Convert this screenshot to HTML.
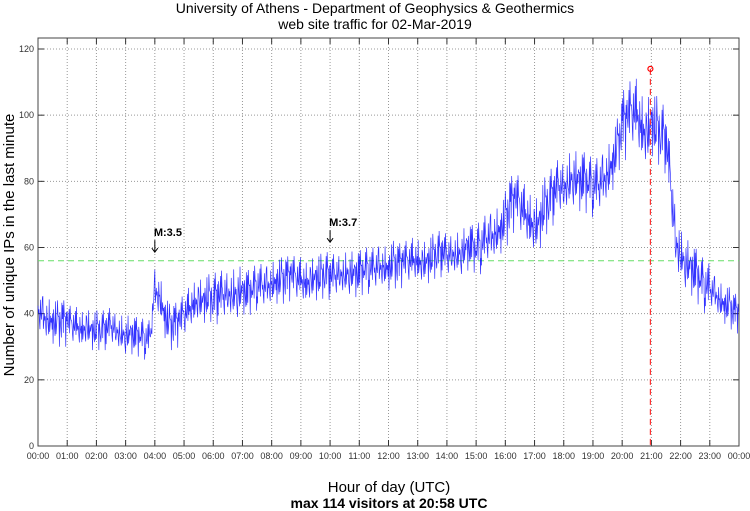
<!DOCTYPE html>
<html><head><meta charset="utf-8"><style>
body{margin:0;background:#fff;}
svg{display:block;font-family:"Liberation Sans",sans-serif;}
</style></head><body>
<svg id="chart" width="750" height="511">
<text x="375" y="13" font-size="14" text-anchor="middle">University of Athens - Department of Geophysics &amp; Geothermics</text>
<text x="375" y="29" font-size="14" text-anchor="middle">web site traffic for 02-Mar-2019</text>
<text transform="translate(14,245) rotate(-90)" font-size="15" text-anchor="middle">Number of unique IPs in the last minute</text>
<text x="389" y="492" font-size="15" text-anchor="middle">Hour of day (UTC)</text>
<text x="389" y="508" font-size="14" font-weight="bold" text-anchor="middle">max 114 visitors at 20:58 UTC</text>
<g id="grid"></g>
<g id="series"></g>
<g id="overlay"></g>
</svg>
<script>
const hourLabels=["00:00","01:00","02:00","03:00","04:00","05:00","06:00","07:00","08:00","09:00","10:00","11:00","12:00","13:00","14:00","15:00","16:00","17:00","18:00","19:00","20:00","21:00","22:00","23:00","00:00"];
const yTicks=[0,20,40,60,80,100,120];
const binMeans=[41,39,38,38,37,37, 37,36,36,35,36,35, 35,35,35,36,35,34, 34,34,33,33,32,32,
 47,45,40,36,36,37, 39,41,43,44,44,45, 44,45,45,46,46,47, 47,46,47,48,48,48,
 49,50,50,50,51,50, 50,49,50,51,51,52, 51,51,52,52,53,52, 52,53,53,53,54,54,
 54,55,54,55,55,56, 56,55,56,57,58,58, 57,58,58,59,60,60, 59,60,62,63,64,66,
 68,72,74,72,70,68, 66,68,72,74,76,78, 78,80,82,80,80,79, 78,78,80,82,86,90,
 96,98,100,100,96,94, 98,96,94,92,78,62, 58,56,54,52,50,48, 47,46,44,43,42,40];
const hourSpread=[7,6,6,6,7,7,8,7,7,7,7,7,7,7,7,8,9,9,9,9,11,10,8,6];
const refLevel=56;
const maxValue=114, maxMinute=20*60+58;
const events=[{label:"M:3.5",minute:240,value:58},{label:"M:3.7",minute:600,value:61}];
const jitter=[0.2,-0.4,0.9,-0.2,0.1,-0.7,0.3,-0.1,1,-0.5,0.2,-0.3,0.6,-1,0.1,0.4,-0.2,0.8,-0.6,0.0,0.5,-0.4,0.3];

const X0=38,X1=739,Y0=446,Y1=49;
const xs=m=>X0+(X1-X0)*m/1440;
const ys=v=>Y0-(Y0-Y1)*v/120;
const NS="http://www.w3.org/2000/svg";
function mk(tag,attrs,parent){const e=document.createElementNS(NS,tag);for(const k in attrs)e.setAttribute(k,attrs[k]);parent.appendChild(e);return e;}
const grid=document.getElementById('grid'),series=document.getElementById('series'),ov=document.getElementById('overlay');

hourLabels.forEach((l,i)=>{const x=xs(i*60);
 if(i>0&&i<24){const g=mk('line',{x1:x,x2:x,y1:38,y2:Y0,stroke:'#999','stroke-dasharray':'1,2'},grid);
 }
 const t1=mk('line',{x1:x,x2:x,y1:Y0,y2:Y0-6,stroke:'#333'},grid);
 const t2=mk('line',{x1:x,x2:x,y1:38,y2:44,stroke:'#333'},grid);
 const t=mk('text',{x:x,y:459,'font-size':9,'text-anchor':'middle',fill:'#333'},grid);t.textContent=l;
 });
yTicks.forEach(v=>{const y=ys(v);
 if(v>0){const g=mk('line',{x1:X0,x2:X1,y1:y,y2:y,stroke:'#999','stroke-dasharray':'1,2'},grid);
 }
 const t1=mk('line',{x1:X0,x2:X0+6,y1:y,y2:y,stroke:'#333'},grid);
 const t2=mk('line',{x1:X1-6,x2:X1,y1:y,y2:y,stroke:'#333'},grid);
 const t=mk('text',{x:X0-4,y:y+3,'font-size':9,'text-anchor':'end',fill:'#333'},grid);t.textContent=v;
 });
const fr=mk('rect',{x:X0,y:38,width:X1-X0,height:Y0-38,fill:'none',stroke:'#444'},grid);


const rl=mk('line',{x1:X0,x2:X1,y1:ys(refLevel),y2:ys(refLevel),stroke:'#66dd66','stroke-dasharray':'6,4'},series);


let pts=[];
for(let m=0;m<1440;m++){const b=Math.floor(m/10);const f=(m%10)/10;
 const nb=Math.min(b+1,binMeans.length-1);const mean=binMeans[b]+(binMeans[nb]-binMeans[b])*f;
 const v=mean+hourSpread[Math.floor(m/60)]*jitter[(m*7+b)%jitter.length];
 pts.push(xs(m).toFixed(2)+','+ys(v).toFixed(2));}
const ln=mk('polyline',{points:pts.join(' '),fill:'none',stroke:'#0000ff','stroke-width':0.7,'stroke-opacity':0.8},series);


const mv=mk('line',{x1:xs(maxMinute),x2:xs(maxMinute),y1:ys(maxValue),y2:Y0,stroke:'#ff3333','stroke-dasharray':'6,4','stroke-width':1.2},ov);

const mc=mk('circle',{cx:xs(maxMinute),cy:ys(maxValue),r:2.5,fill:'none',stroke:'#ff0000','stroke-width':1.2},ov);


events.forEach(e=>{const x=xs(e.minute),y=ys(e.value)-2;
 const a=mk('path',{d:`M${x},${y-12}V${y}M${x-3},${y-4}L${x},${y}L${x+3},${y-4}`,stroke:'#000',fill:'none'},ov);
 
 const t=mk('text',{x:x-1,y:y-16,'font-size':11,'font-weight':'bold'},ov);t.textContent=e.label;
 });
</script>
</body></html>
